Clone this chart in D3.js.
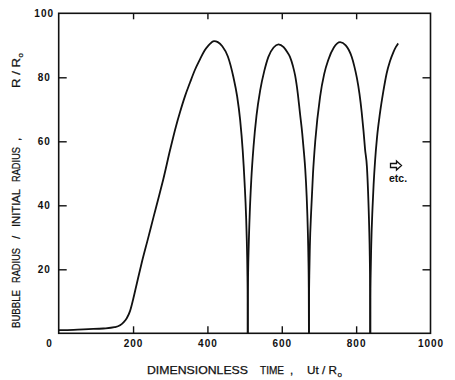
<!doctype html>
<head>
<meta charset="utf-8">
<script src="https://cdn.jsdelivr.net/npm/d3@7/dist/d3.min.js" charset="utf-8"></script>
<style>
body { margin: 0; background: #fff; }
text { font-family: "Liberation Sans", Arial, sans-serif; fill: #111; }
</style>
</head>
<body>
<script>

// bubble radius history
var time = [
  0, 40, 80, 120, 150, 165, 175, 183, 192, 200, 210, 223, 240, 255, 270, 281, 300, 315, 326, 340, 353, 366, 380, 392, 403, 411, 418, 428, 440, 455, 470, 480, 488, 495, 500, 504, 506, 507.5, 508.2, 508.5,
  508.8, 509.5, 511, 514, 518, 524, 532, 542, 553, 564, 578, 591, 605, 615, 622, 630, 636, 643, 649, 655, 660, 663, 667, 670, 671.6, 672.6, 673,
  673.3, 674, 675.5, 679, 684, 690, 703, 714, 725, 740, 757, 772, 780, 788, 795, 802, 809, 815, 820, 824, 829, 832, 835, 836.7, 837.6, 838,
  838.3, 839, 840.5, 844, 847, 851, 856, 864, 873, 882, 891, 900, 907, 913
];
var radius = [
  1.0, 1.1, 1.3, 1.5, 1.9, 2.5, 3.5, 4.7, 7, 10.5, 15.5, 21.9, 29.5, 36.3, 43, 48, 57.5, 64.5, 69, 74.2, 78.3, 82.2, 85.6, 88.3, 90, 90.9, 91.3, 91, 89.7, 86.5, 80, 74, 66.7, 57, 47, 36.6, 28.6, 19.5, 11.3, 0,
  11, 19, 27, 38, 48, 58.3, 68, 76, 82, 86.4, 89.3, 90.3, 89.4, 87.8, 86.4, 83.5, 80.5, 75, 68.7, 62.5, 56, 51.5, 42.6, 32.3, 23.7, 14.2, 0,
  11, 18, 27, 38, 50, 60, 73.9, 81, 85.4, 89.3, 91, 90, 88.6, 86.4, 83.5, 79.8, 74.8, 69, 63, 57.5, 52, 44.5, 33.5, 24, 14, 0,
  11, 18, 27, 39, 46.5, 54, 61, 68.7, 75.5, 81.2, 85, 87.8, 89.5, 90.6
];
var xTicks = [200, 400, 600, 800, 1000];
var yTicks = [20, 40, 60, 80, 100];

var W = 455, H = 380;
var svg = d3.select("body").append("svg")
  .attr("width", W)
  .attr("height", H);

var x = d3.scaleLinear().domain([0, 1000]).range([58.7, 430.5]);
var y = d3.scaleLinear().domain([0, 100]).range([333.3, 13.3]);

// frame
svg.append("rect")
  .attr("x", x(0)).attr("y", y(100))
  .attr("width", x(1000) - x(0)).attr("height", y(0) - y(100))
  .attr("fill", "none").attr("stroke", "#111").attr("stroke-width", 1.6);

function style_axis(g) {
  g.select(".domain").remove();
  g.selectAll(".tick line").attr("stroke", "#111").attr("stroke-width", 1.4);
  g.selectAll(".tick text")
    .style("font-size", "10px")
    .style("font-weight", "bold")
    .style("letter-spacing", "1px")
    .attr("fill", "#111");
}

svg.append("g")
  .attr("transform", "translate(0," + y(0) + ")")
  .call(d3.axisBottom(x).tickValues(xTicks).tickSize(-7).tickPadding(6.6).tickFormat(d3.format("d")))
  .call(style_axis)
  .call(g => g.selectAll(".tick").filter(d => d == 1000).select("line").remove());

svg.append("g")
  .attr("transform", "translate(0," + y(100) + ")")
  .call(d3.axisTop(x).tickValues(xTicks.slice(0, 4)).tickSize(-6).tickFormat(""))
  .call(style_axis);

svg.append("g")
  .attr("transform", "translate(" + x(0) + ",0)")
  .call(d3.axisLeft(y).tickValues(yTicks).tickSize(-8).tickFormat(d3.format("d")))
  .call(style_axis)
  .call(g => g.selectAll(".tick").filter(d => d == 100).select("line").remove())
  .call(g => g.selectAll(".tick text").attr("text-anchor", "middle").attr("x", -14.5));

svg.append("g")
  .attr("transform", "translate(" + x(1000) + ",0)")
  .call(d3.axisRight(y).tickValues(yTicks.slice(0, 4)).tickSize(-8).tickFormat(""))
  .call(style_axis);

// shared origin label
svg.append("text")
  .attr("x", 49).attr("y", 347)
  .attr("text-anchor", "middle")
  .style("font-size", "10px").style("font-weight", "bold")
  .text("0");

// curve, one piece per collapse so the cusps stay sharp
var pts = time.map((t, i) => [t, radius[i]]);
var pieces = [[]];
pts.forEach((p, i) => {
  pieces[pieces.length - 1].push(p);
  if (p[1] == 0 && i < pts.length - 1) pieces.push([p]);
});
var line = d3.line().x(d => x(d[0])).y(d => y(d[1])).curve(d3.curveMonotoneX);
svg.append("g").selectAll("path")
  .data(pieces)
  .join("path")
  .attr("fill", "none")
  .attr("stroke", "#111")
  .attr("stroke-width", 1.8)
  .attr("stroke-linejoin", "round")
  .attr("d", line);

// axis titles: each word placed and stretched as in the figure
function words(g, list) {
  list.forEach(w => {
    var t = g.append("text").attr("x", w[1])
      .style("font-size", "11.5px")
      .attr("stroke", "#111").attr("stroke-width", 0.25)
      .text(w[0]);
    if (w[2]) t.attr("textLength", w[2]).attr("lengthAdjust", "spacingAndGlyphs");
    if (w[3]) t.attr("dy", w[3]).style("font-size", "8px");
  });
}
words(svg.append("g").attr("transform", "translate(0,374)"), [
  ["DIMENSIONLESS", 147, 101], ["TIME", 260, 24], [",", 290], ["Ut / R", 307, 30], ["o", 337.5, 0, 3]
]);
words(svg.append("g").attr("transform", "translate(20,333) rotate(-90)"), [
  ["BUBBLE", 5, 38], ["RADIUS", 50, 35], ["/", 94], ["INITIAL", 106, 38], ["RADIUS", 151, 35], [",", 192],
  ["R / R", 245, 30], ["o", 275.5, 0, 3]
]);

// "etc." note with hollow arrow
svg.append("path")
  .attr("d", "M390.5,163.5 h6 v-2.5 l5,4.5 l-5,4.5 v-2.5 h-6 z")
  .attr("fill", "#fff").attr("stroke", "#111").attr("stroke-width", 1.3);
svg.append("text")
  .attr("x", 389).attr("y", 182)
  .style("font-size", "10.5px").style("font-weight", "bold")
  .text("etc.");

</script>
</body>
</html>
